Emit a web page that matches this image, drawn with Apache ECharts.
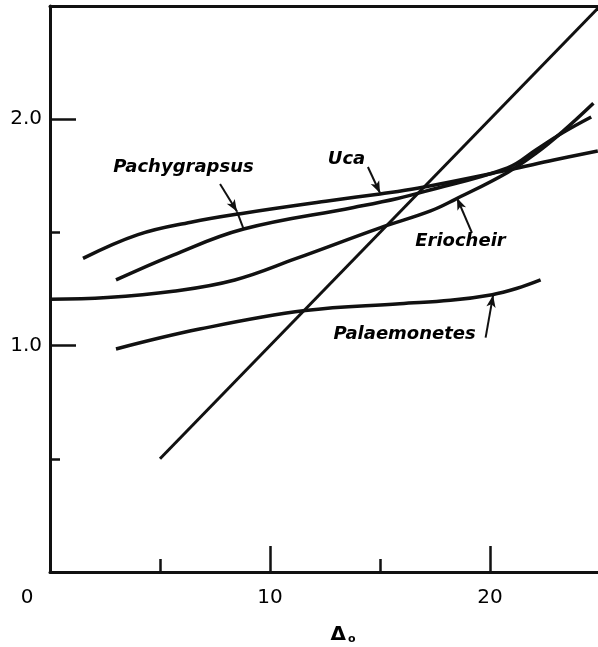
<!DOCTYPE html>
<html><head><meta charset="utf-8">
<script src="https://cdn.jsdelivr.net/npm/echarts@6/dist/echarts.min.js"></script>
<style>html,body{margin:0;padding:0;background:#fff}#c{width:598px;height:647px}</style>
</head><body><div id="c"></div>
<script>
// ---- data ----
const ucaX   = [1.5, 4, 6.4, 8.8, 12.7, 15, 16.7, 20.8, 22.9, 24.9];
const ucaY   = [1.385, 1.49, 1.545, 1.585, 1.64, 1.67, 1.695, 1.775, 1.82, 1.86];
const pachyX = [3, 5.6, 8.8, 13.8, 15.8, 17, 20.8, 22.1, 23.3, 24.6];
const pachyY = [1.29, 1.40, 1.515, 1.61, 1.65, 1.68, 1.785, 1.865, 1.94, 2.01];
const erioX  = [0, 2.6, 5.6, 8.4, 11.2, 15, 17.3, 18.4, 20.8, 22.1, 23.3, 24.7];
const erioY  = [1.205, 1.212, 1.24, 1.29, 1.385, 1.52, 1.595, 1.645, 1.765, 1.85, 1.945, 2.07];
const palaeX = [3, 6.8, 11.6, 15.9, 18.2, 20.1, 21.2, 22.3];
const palaeY = [0.985, 1.073, 1.155, 1.185, 1.2, 1.225, 1.252, 1.29];
const isoX   = [5, 25];
const isoY   = [0.5, 2.5];

const xTickValues = [0, 10, 20];
const xTickLabels = ['0', '10', '20'];
const yTickValues = [1, 2];
const yTickLabels = ['1.0', '2.0'];
const xAxisName = 'Δ';
const xAxisSub = 'o';

// annotation texts and arrow anchors (data coordinates)
const noteNames = ['Pachygrapsus', 'Uca', 'Eriocheir', 'Palaemonetes'];
const noteX = [6.09, 13.5, 18.68, 16.14];
const noteY = [1.784, 1.819, 1.458, 1.048];
const arrowFrom = [[7.73, 1.714], [14.45, 1.789], [19.18, 1.498], [19.8, 1.035]];
const arrowTo   = [[8.5, 1.592], [15.0, 1.674], [18.5, 1.652], [20.14, 1.222]];
const tailFrom  = [[8.5, 1.592]];
const tailTo    = [[8.8, 1.515]];

// ---- chart ----
const zip = (xs, ys) => xs.map((x, i) => [x, ys[i]]);
const INK = '#000';
const curve = (name, xs, ys, w) => ({
  name, type: 'line', data: zip(xs, ys), smooth: 0.4, showSymbol: false, symbol: 'none',
  lineStyle: { color: '#111', width: w }, emphasis: { disabled: true }, silent: true, z: 3
});

const arrowData = arrowFrom.map((f, i) => [{ coord: f }, { coord: arrowTo[i] }])
  .concat(tailFrom.map((f, i) => [{ coord: f, symbol: 'none' }, { coord: tailTo[i], symbol: 'none' }]));

const chart = echarts.init(document.getElementById('c'), null, { renderer: 'canvas' });
const tickFont = { fontFamily: 'DejaVu Sans', fontSize: 20, color: INK };

chart.setOption({
  animation: false,
  backgroundColor: '#fff',
  grid: { left: 50, top: 6, width: 550, height: 566, outerBoundsMode: 'none', containLabel: false },
  xAxis: [
    { type: 'value', min: 0, max: 25, interval: 10, position: 'bottom',
      axisLine: { show: true, onZero: false, lineStyle: { color: '#111', width: 3 } },
      axisTick: { show: true, inside: true, length: 26, lineStyle: { color: '#111', width: 2.5 } },
      splitLine: { show: false },
      axisLabel: Object.assign({ margin: 16,
        formatter: v => { const i = xTickValues.indexOf(v); if (i < 0) return ''; return v === 0 ? '{o|' + xTickLabels[i] + '}' : xTickLabels[i]; },
        rich: { o: { fontFamily: 'DejaVu Sans', fontSize: 20, color: INK, padding: [0, 46, 0, 0] } } }, tickFont),
      name: '{d|' + xAxisName + '}{s|' + xAxisSub + '}', nameLocation: 'middle', nameGap: 52,
      nameTextStyle: { padding: [0, 0, 0, 36],
        rich: { d: { fontFamily: 'DejaVu Sans', fontWeight: 'bold', fontSize: 20, color: INK },
                s: { fontFamily: 'DejaVu Sans', fontWeight: 'bold', fontSize: 11, color: INK, verticalAlign: 'bottom', padding: [10, 0, 0, 2] } } }
    },
    { type: 'value', min: 0, max: 25, interval: 5, position: 'bottom',
      axisLine: { show: false, onZero: false },
      axisTick: { show: true, inside: true, length: 13, lineStyle: { color: '#111', width: 2.5 } },
      splitLine: { show: false }, axisLabel: { show: false } },
    { type: 'value', min: 0, max: 25, position: 'top',
      axisLine: { show: true, onZero: false, lineStyle: { color: '#111', width: 3 } },
      axisTick: { show: false }, splitLine: { show: false }, axisLabel: { show: false } }
  ],
  yAxis: [
    { type: 'value', min: 0, max: 2.5, interval: 1, position: 'left',
      axisLine: { show: true, onZero: false, lineStyle: { color: '#111', width: 3 } },
      axisTick: { show: true, inside: true, length: 26, lineStyle: { color: '#111', width: 2.5 } },
      splitLine: { show: false },
      axisLabel: Object.assign({ margin: 8,
        formatter: v => { const i = yTickValues.indexOf(v); return i < 0 ? '' : yTickLabels[i]; } }, tickFont) },
    { type: 'value', min: 0, max: 2.5, interval: 0.5, position: 'left',
      axisLine: { show: false, onZero: false },
      axisTick: { show: true, inside: true, length: 10, lineStyle: { color: '#111', width: 2.5 } },
      splitLine: { show: false }, axisLabel: { show: false } }
  ],
  series: [
    curve('Isosmotic', isoX, isoY, 3),
    curve('Uca', ucaX, ucaY, 3.5),
    curve('Pachygrapsus', pachyX, pachyY, 3.5),
    curve('Eriocheir', erioX, erioY, 3.5),
    curve('Palaemonetes', palaeX, palaeY, 3.5),
    { name: 'notes', type: 'scatter', silent: true, symbolSize: 1,
      itemStyle: { color: 'rgba(255,255,255,0)' },
      emphasis: { disabled: true },
      data: noteNames.map((n, i) => ({ name: n, value: [noteX[i], noteY[i]] })),
      label: { show: true, position: [0, 0], align: 'center', verticalAlign: 'middle', formatter: '{b}',
               fontFamily: 'DejaVu Sans', fontStyle: 'italic', fontWeight: 'bold', fontSize: 18,
               color: INK, opacity: 1, textBorderWidth: 0 },
      markLine: { silent: true, animation: false, symbol: ['none', 'arrow'], symbolSize: [7, 12],
                  lineStyle: { color: '#111', width: 2, type: 'solid' }, label: { show: false },
                  emphasis: { disabled: true }, data: arrowData },
      z: 5 }
  ]
});
</script></body></html>
